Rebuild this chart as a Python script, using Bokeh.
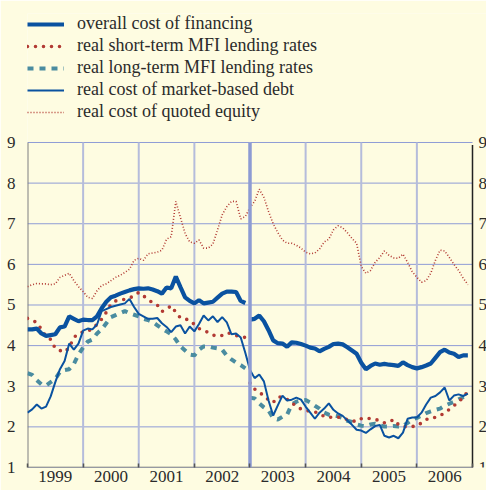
import numpy as np
from bokeh.plotting import figure
from bokeh.models import (FixedTicker, Range1d, Legend, LegendItem)
from bokeh.core.properties import value
from bokeh.embed import file_html
from bokeh.resources import INLINE

# ---------------- data (monthly, Jan 1999 - Dec 2006) ----------------
start_year = 1999
n_months = 96
year_labels = ["1999", "2000", "2001", "2002", "2003", "2004", "2005", "2006"]
y_ticks = [1, 2, 3, 4, 5, 6, 7, 8, 9]
break_year = 2003
series_names = ["overall cost of financing",
                "real short-term MFI lending rates",
                "real long-term MFI lending rates",
                "real cost of market-based debt",
                "real cost of quoted equity"]

overall_cost = [
    4.40, 4.40, 4.42, 4.30, 4.24, 4.26, 4.28, 4.45, 4.47, 4.72, 4.66, 4.60,
    4.64, 4.63, 4.63, 4.72, 4.92, 5.08, 5.19, 5.23, 5.28, 5.32, 5.36, 5.39,
    5.41, 5.40, 5.41, 5.38, 5.34, 5.28, 5.43, 5.41, 5.70, 5.44, 5.19, 5.10,
    5.04, 5.12, 5.04, 5.06, 5.08, 5.18, 5.28, 5.33, 5.33, 5.32, 5.10, 5.05,
    4.64, 4.66, 4.74, 4.60, 4.38, 4.13, 4.06, 4.05, 3.97, 4.08, 4.07, 4.04,
    4.00, 3.95, 3.93, 3.86, 3.92, 3.97, 4.04, 4.05, 4.03, 3.96, 3.88, 3.80,
    3.58, 3.42, 3.50, 3.56, 3.53, 3.55, 3.53, 3.52, 3.50, 3.59, 3.52, 3.47,
    3.44, 3.47, 3.51, 3.56, 3.70, 3.84, 3.90, 3.83, 3.80, 3.72, 3.76, 3.76]

short_term_mfi = [
    4.67, 4.62, 4.57, 4.40, 4.23, 4.15, 3.93, 3.88, 3.84, 3.95, 4.20, 4.30,
    4.34, 4.35, 4.42, 4.52, 4.65, 4.82, 5.02, 5.10, 5.12, 5.14, 5.17, 5.23,
    5.31, 5.23, 5.13, 5.06, 5.00, 4.84, 4.90, 4.98, 4.82, 4.68, 4.66, 4.62,
    4.52, 4.42, 4.38, 4.32, 4.26, 4.23, 4.25, 4.31, 4.30, 4.25, 4.22, 4.20,
    3.08, 2.93, 2.84, 2.78, 2.66, 2.60, 2.73, 2.74, 2.68, 2.60, 2.50, 2.44,
    2.40, 2.39, 2.37, 2.31, 2.26, 2.23, 2.25, 2.24, 2.22, 2.18, 2.15, 2.13,
    2.20, 2.22, 2.20, 2.18, 2.16, 2.10, 2.12, 2.18, 2.06, 2.01, 2.00, 2.01,
    2.02, 2.10, 2.18, 2.23, 2.23, 2.28, 2.34, 2.43, 2.52, 2.62, 2.72, 2.88]

long_term_mfi = [
    3.32, 3.28, 3.15, 3.05, 3.02, 3.10, 3.18, 3.35, 3.40, 3.42, 3.55, 3.78,
    3.95, 4.10, 4.15, 4.30, 4.40, 4.55, 4.70, 4.75, 4.80, 4.85, 4.80, 4.76,
    4.72, 4.66, 4.63, 4.58, 4.50, 4.42, 4.35, 4.28, 4.15, 3.98, 3.88, 3.78,
    3.76, 3.90, 3.98, 3.98, 3.95, 3.93, 3.90, 3.75, 3.66, 3.58, 3.52, 3.44,
    2.72, 2.70, 2.58, 2.48, 2.40, 2.22, 2.18, 2.25, 2.30, 2.55, 2.62, 2.65,
    2.66, 2.60, 2.52, 2.45, 2.35, 2.30, 2.28, 2.26, 2.22, 2.15, 2.12, 2.06,
    2.03, 2.02, 2.06, 2.08, 2.04, 2.01, 2.01, 2.02, 2.01, 2.02, 2.10, 2.18,
    2.22, 2.28, 2.34, 2.38, 2.42, 2.45, 2.52, 2.57, 2.62, 2.68, 2.73, 2.77]

market_debt = [
    2.35, 2.43, 2.55, 2.45, 2.50, 2.75, 3.10, 3.42, 3.62, 4.05, 3.90, 4.05,
    4.37, 4.42, 4.40, 4.52, 4.85, 4.90, 4.95, 4.98, 5.01, 5.04, 5.15, 4.95,
    4.78, 4.72, 4.66, 4.66, 4.68, 4.55, 4.46, 4.33, 4.47, 4.50, 4.30, 4.47,
    4.35, 4.53, 4.74, 4.62, 4.72, 4.58, 4.70, 4.57, 4.28, 4.30, 4.20, 3.82,
    3.40, 3.20, 3.29, 3.12, 2.65, 2.28, 2.53, 2.77, 2.65, 2.67, 2.72, 2.67,
    2.50, 2.35, 2.20, 2.35, 2.45, 2.58, 2.42, 2.33, 2.27, 2.16, 2.05, 1.93,
    1.91, 1.85, 1.94, 2.02, 2.05, 1.78, 1.74, 1.78, 1.72, 1.86, 2.20, 2.23,
    2.23, 2.35, 2.55, 2.72, 2.76, 2.85, 2.97, 2.65, 2.77, 2.80, 2.76, 2.82]

quoted_equity = [
    5.45, 5.50, 5.53, 5.52, 5.52, 5.50, 5.52, 5.68, 5.73, 5.78, 5.60, 5.45,
    5.33, 5.19, 5.16, 5.35, 5.48, 5.52, 5.60, 5.68, 5.73, 5.80, 5.88, 6.10,
    6.15, 6.10, 6.26, 6.28, 6.30, 6.35, 6.62, 6.68, 7.55, 7.15, 6.76, 6.55,
    6.52, 6.60, 6.40, 6.40, 6.50, 6.85, 7.22, 7.42, 7.55, 7.55, 7.12, 7.18,
    7.40, 7.55, 7.85, 7.65, 7.30, 7.00, 6.78, 6.60, 6.52, 6.52, 6.47, 6.40,
    6.30, 6.26, 6.28, 6.38, 6.55, 6.62, 6.85, 6.95, 6.90, 6.78, 6.64, 6.52,
    5.95, 5.78, 5.85, 6.05, 6.17, 6.33, 6.22, 6.16, 6.15, 6.25, 6.05, 5.82,
    5.68, 5.56, 5.60, 5.78, 6.10, 6.35, 6.33, 6.17, 6.00, 5.85, 5.66, 5.50]

series_break = 48  # statistical break at January 2003 (index of first 2003 month)

# ---------------- styling ----------------
BG = "#FEFCE1"
BLUE = "#0A52A0"
RED = "#B23A33"
TEAL = "#4A8CA0"
FONT = "Liberation Serif"
TXT = "#2B2B2B"

styles = [
    dict(line_color=BLUE, line_width=4.2),
    dict(line_color=RED, line_width=3.6, line_dash="0 8", line_cap="round"),
    dict(line_color=TEAL, line_width=4, line_dash="6 6"),
    dict(line_color=BLUE, line_width=2),
    dict(line_color=RED, line_width=1.6, line_dash="1 2"),
]

months = start_year + np.arange(n_months) / 12.0
year_bounds = [start_year + i for i in range(len(year_labels) + 1)]
x_first, x_last = year_bounds[0], year_bounds[-1]
y_lo, y_hi = y_ticks[0], y_ticks[-1]

# The frame is extended upwards (room for the legend) and slightly to the right
# (room for the right-hand tick labels); the visible chart box is drawn explicitly.
p = figure(width=486, height=490, output_backend="svg", toolbar_location=None,
           x_range=Range1d(x_first, x_last + 0.2517), y_range=Range1d(y_lo, 12.175),
           min_border_left=27, min_border_right=0, min_border_top=13,
           min_border_bottom=23)
p.background_fill_color = BG
p.border_fill_color = BG
p.outline_line_color = None
p.xgrid.visible = False
p.ygrid.visible = False

# horizontal grid (inside the chart box only)
p.segment(x0=[x_first] * len(y_ticks), y0=y_ticks, x1=[x_last] * len(y_ticks), y1=y_ticks,
          line_color="#8F9CD6", line_width=1)

# vertical grid at year boundaries
inner = year_bounds[1:-1]
p.segment(x0=inner, y0=[y_lo] * len(inner), x1=inner, y1=[y_hi] * len(inner),
          line_color="#B5BCDB", line_width=2)

# x axis: labels centred in each year, small ticks at year boundaries
mid_years = [start_year + i + 0.5 for i in range(len(year_labels))]
xa = p.xaxis[0]
xa.ticker = FixedTicker(ticks=mid_years, minor_ticks=year_bounds)
xa.major_label_overrides = {m: lab for m, lab in zip(mid_years, year_labels)}
xa.major_tick_line_color = None
xa.major_tick_in = 0
xa.major_tick_out = 0
xa.minor_tick_in = 4
xa.minor_tick_out = 0
xa.minor_tick_line_color = "#555555"
xa.minor_tick_line_width = 1.5
xa.axis_line_color = None
xa.major_label_standoff = 3
xa.major_label_text_font = FONT
xa.major_label_text_font_size = "17px"
xa.major_label_text_color = TXT

# left y axis (labels only; its line is drawn as part of the box)
ya = p.yaxis[0]
ya.ticker = FixedTicker(ticks=y_ticks)
ya.axis_line_color = None
ya.major_tick_line_color = None
ya.minor_tick_line_color = None
ya.major_tick_in = 0
ya.major_tick_out = 0
ya.minor_tick_out = 0
ya.major_label_standoff = 12
ya.major_label_text_font = FONT
ya.major_label_text_font_size = "17px"
ya.major_label_text_color = TXT

# chart box lines: bottom, left, right
p.segment(x0=[x_first], y0=[y_lo], x1=[x_last], y1=[y_lo], line_color="#666666", line_width=1.5)
p.segment(x0=[x_first], y0=[y_lo], x1=[x_first], y1=[y_hi], line_color="#7F7F7F", line_width=2)
p.segment(x0=[x_last], y0=[y_lo], x1=[x_last], y1=[y_hi - 0.06], line_color="#222222", line_width=1.5)

# right-hand tick labels
p.text(x=[x_last] * len(y_ticks), y=y_ticks, text=[str(t) for t in y_ticks],
       x_offset=6, text_baseline="middle", text_align="left",
       text_font=value(FONT), text_font_size="17px", text_color=TXT)

# series (three of them have a statistical break in January 2003)
x1, x2 = months[:series_break], months[series_break:]
r_eq = p.line(months, quoted_equity, **styles[4])
r_lt = p.line(x1, long_term_mfi[:series_break], **styles[2])
p.line(x2, long_term_mfi[series_break:], **styles[2])
r_st = p.line(x1, short_term_mfi[:series_break], **styles[1])
p.line(x2, short_term_mfi[series_break:], **styles[1])
r_debt = p.line(months, market_debt, **styles[3])
r_ov = p.line(x1, overall_cost[:series_break], **styles[0])
p.line(x2, overall_cost[series_break:], **styles[0])

# break marker at 2003
p.segment(x0=[break_year], y0=[y_lo], x1=[break_year], y1=[y_hi],
          line_color="#8D9BD3", line_width=3.5)

# ---------------- legend (top-left, above the chart box) ----------------
legend = Legend(items=[
    LegendItem(label=series_names[0], renderers=[r_ov]),
    LegendItem(label=series_names[1], renderers=[r_st]),
    LegendItem(label=series_names[2], renderers=[r_lt]),
    LegendItem(label=series_names[3], renderers=[r_debt]),
    LegendItem(label=series_names[4], renderers=[r_eq]),
])
legend.orientation = "vertical"
legend.location = "top_left"
legend.background_fill_alpha = 0
legend.border_line_alpha = 0
legend.padding = 0
legend.margin = 0
legend.spacing = 1
legend.glyph_width = 37
legend.glyph_height = 20
legend.label_height = 20
legend.label_standoff = 13
legend.label_text_font = FONT
legend.label_text_font_size = "18px"
legend.label_text_color = TXT
p.add_layout(legend, "center")

html = file_html(p, INLINE)
html = html.replace("<body>", '<body style="background-color:#FEFCE1;">', 1)
open("out.html", "w").write(html)
